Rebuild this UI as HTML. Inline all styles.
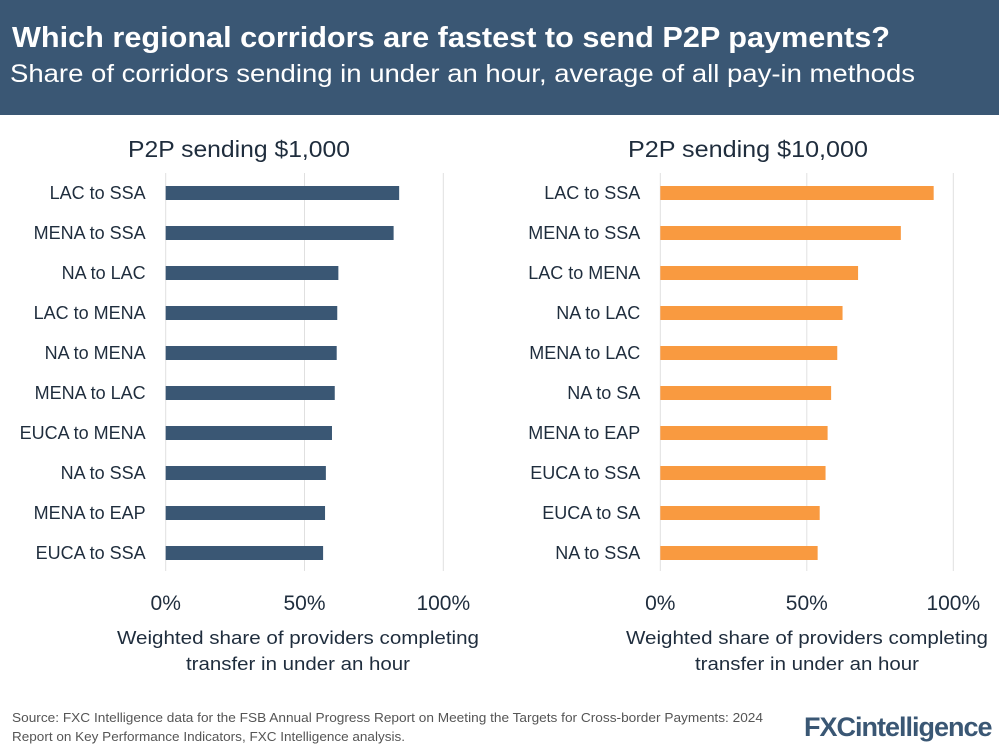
<!DOCTYPE html>
<html><head><meta charset="utf-8"><style>
html,body{margin:0;padding:0;background:#fff;}
svg{display:block;font-family:"Liberation Sans",sans-serif;}
</style></head><body>
<svg id="chart" width="999" height="749" viewBox="0 0 999 749">
<rect x="0" y="0" width="999" height="115" fill="#3a5774"/>
<text x="12" y="47" fill="#fff" font-size="29" font-weight="bold" textLength="878" lengthAdjust="spacingAndGlyphs">Which regional corridors are fastest to send P2P payments?</text>
<text x="10" y="82" fill="#fff" font-size="25" textLength="905" lengthAdjust="spacingAndGlyphs">Share of corridors sending in under an hour, average of all pay-in methods</text>
<g id="left"></g>
<g id="right"></g>
<text x="12" y="722" fill="#555" font-size="13" textLength="751" lengthAdjust="spacingAndGlyphs">Source: FXC Intelligence data for the FSB Annual Progress Report on Meeting the Targets for Cross-border Payments: 2024</text>
<text x="12" y="741" fill="#555" font-size="13" textLength="393" lengthAdjust="spacingAndGlyphs">Report on Key Performance Indicators, FXC Intelligence analysis.</text>
<text x="804" y="736" fill="#3a5774" font-size="27" font-weight="bold" letter-spacing="-1">FXCintelligence</text>
</svg>
<script>
const leftCategories = ["LAC to SSA","MENA to SSA","NA to LAC","LAC to MENA","NA to MENA","MENA to LAC","EUCA to MENA","NA to SSA","MENA to EAP","EUCA to SSA"];
const leftValues = [0.841,0.821,0.622,0.618,0.616,0.609,0.599,0.577,0.574,0.567];
const rightCategories = ["LAC to SSA","MENA to SSA","LAC to MENA","NA to LAC","MENA to LAC","NA to SA","MENA to EAP","EUCA to SSA","EUCA to SA","NA to SSA"];
const rightValues = [0.933,0.821,0.675,0.622,0.604,0.583,0.571,0.564,0.544,0.537];
const tickValues = [0,0.5,1];
const tickLabels = ["0%","50%","100%"];
const NS = "http://www.w3.org/2000/svg";
function mk(tag, attrs, parent){const e=document.createElementNS(NS,tag);for(const k in attrs)e.setAttribute(k,attrs[k]);parent.appendChild(e);return e;}
function panel(g, title, cats, vals, x0, x1, color, prefix, titleX, titleW, axisX){
  const xs = v => x0 + v*(x1-x0);
  const ys = i => 193 + i*40;
  let t = mk("text",{x:titleX,y:157,"text-anchor":"middle","font-size":"23",fill:"#1f2d3d",textLength:titleW,lengthAdjust:"spacingAndGlyphs"},g);
  t.textContent = title;
  
  
  tickValues.forEach((v,i)=>{
    const l = mk("line",{x1:xs(v),x2:xs(v),y1:173,y2:571,stroke:"#e0e0e0","stroke-width":"1"},g);
    
    
    const tl = mk("text",{x:xs(v),y:610,"text-anchor":"middle","font-size":"21",fill:"#1f2d3d"},g);
    tl.textContent = tickLabels[i];
    
    
  });
  cats.forEach((c,i)=>{
    const lb = mk("text",{x:x0-20,y:ys(i)+6,"text-anchor":"end","font-size":"18",fill:"#1f2d3d"},g);
    lb.textContent = c;
    
    
    const r = mk("rect",{x:x0,y:ys(i)-7,width:xs(vals[i])-x0,height:14,fill:color},g);
    
    
  });
  const a1 = mk("text",{x:axisX,y:644,"text-anchor":"middle","font-size":"18.5",fill:"#1f2d3d",textLength:"362",lengthAdjust:"spacingAndGlyphs"},g);
  a1.textContent = "Weighted share of providers completing";
  
  
  const a2 = mk("text",{x:axisX,y:670,"text-anchor":"middle","font-size":"18.5",fill:"#1f2d3d",textLength:"224",lengthAdjust:"spacingAndGlyphs"},g);
  a2.textContent = "transfer in under an hour";
  
  
}
panel(document.getElementById("left"),"P2P sending $1,000",leftCategories,leftValues,165.7,443.3,"#3a5774","left",239,222,298);
panel(document.getElementById("right"),"P2P sending $10,000",rightCategories,rightValues,660.3,953.3,"#f99a40","right",748,240,807);
</script>
</body></html>
